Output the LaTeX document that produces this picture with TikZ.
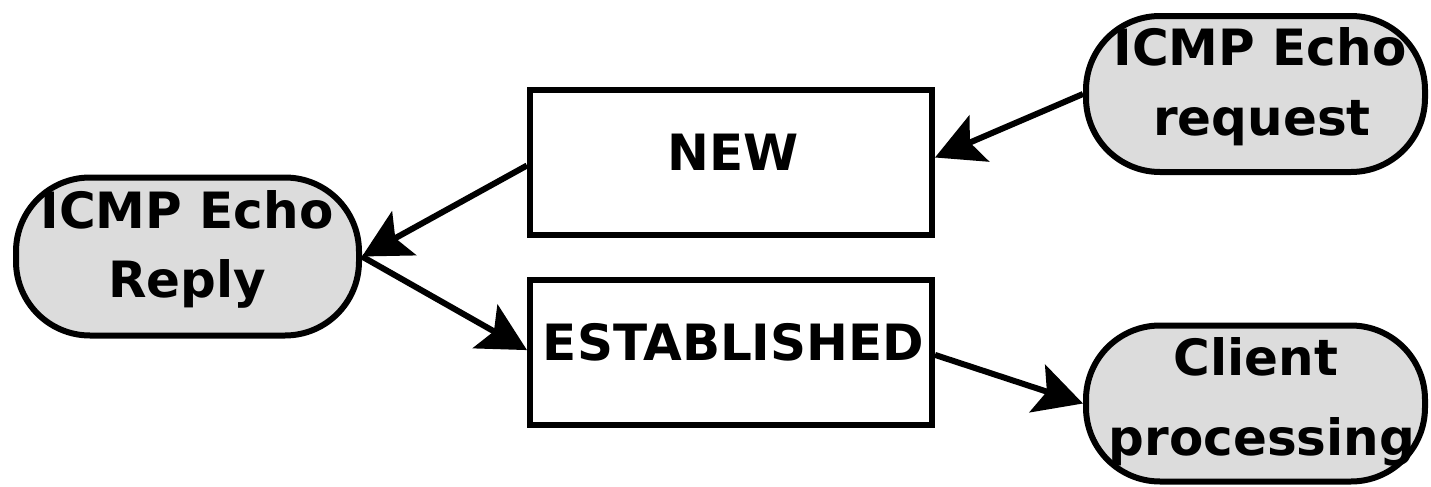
\documentclass[tikz,border=0pt]{standalone}
\usepackage{fontspec}
\setmainfont{DejaVu Sans}
\usetikzlibrary{arrows.meta}
\definecolor{capfill}{RGB}{220,220,220}
\tikzset{
  every picture/.style={x=0.5pt,y=-0.5pt},
  statebox/.style={draw=black, fill=white, line width=3pt, rectangle,
    minimum width=201pt, minimum height=72.5pt, inner sep=0pt},
  capsule/.style={draw=black, fill=capfill, line width=3pt, rectangle,
    rounded corners=37pt, minimum width=170pt, minimum height=78pt, inner sep=0pt},
  lbl/.style={font=\fontsize{25pt}{30pt}\selectfont\bfseries, inner sep=0pt, anchor=base},
  flow/.style={line width=3pt, -{Stealth[length=24pt, width=25pt, inset=5pt]}}
}
\begin{document}
\begin{tikzpicture}
\useasboundingbox (0,0) rectangle (1431,487);

% state boxes
\node[statebox] (new) at (731,162.5) {};
\node[statebox] (est) at (731,352.5) {};
\node[lbl] (newtxt) at (733,170) {NEW};
\node[lbl] (esttxt) at (733.5,360) {ESTABLISHED};

% ICMP Echo Reply
\node[capsule, minimum width=171.5pt, minimum height=79pt] (reply) at (187.5,256.5) {};
\node[lbl] (replyA) at (187,228) {ICMP Echo};
\node[lbl] (replyB) at (187,297) {Reply};

% ICMP Echo request
\node[capsule, minimum width=169.5pt, minimum height=78pt] (req) at (1255.5,94) {};
\node[lbl] (reqA) at (1260,65) {ICMP Echo};
\node[lbl] (reqB) at (1262,135) {request};

% Client processing
\node[capsule, minimum width=169.5pt, minimum height=78pt] (client) at (1255.5,403.5) {};
\node[lbl] (clientA) at (1256,375) {Client};
\node[lbl] (clientB) at (1262,455) {processing};

% transitions
\draw[flow] (req.west) -- ([yshift=2.5pt]new.east);
\draw[flow] ([yshift=-1.5pt]new.west) -- (reply.east);
\draw[flow] (reply.east) -- ([yshift=1.2pt]est.west);
\draw[flow] ([yshift=-1.2pt]est.east) -- (client.west);
\end{tikzpicture}
\end{document}
